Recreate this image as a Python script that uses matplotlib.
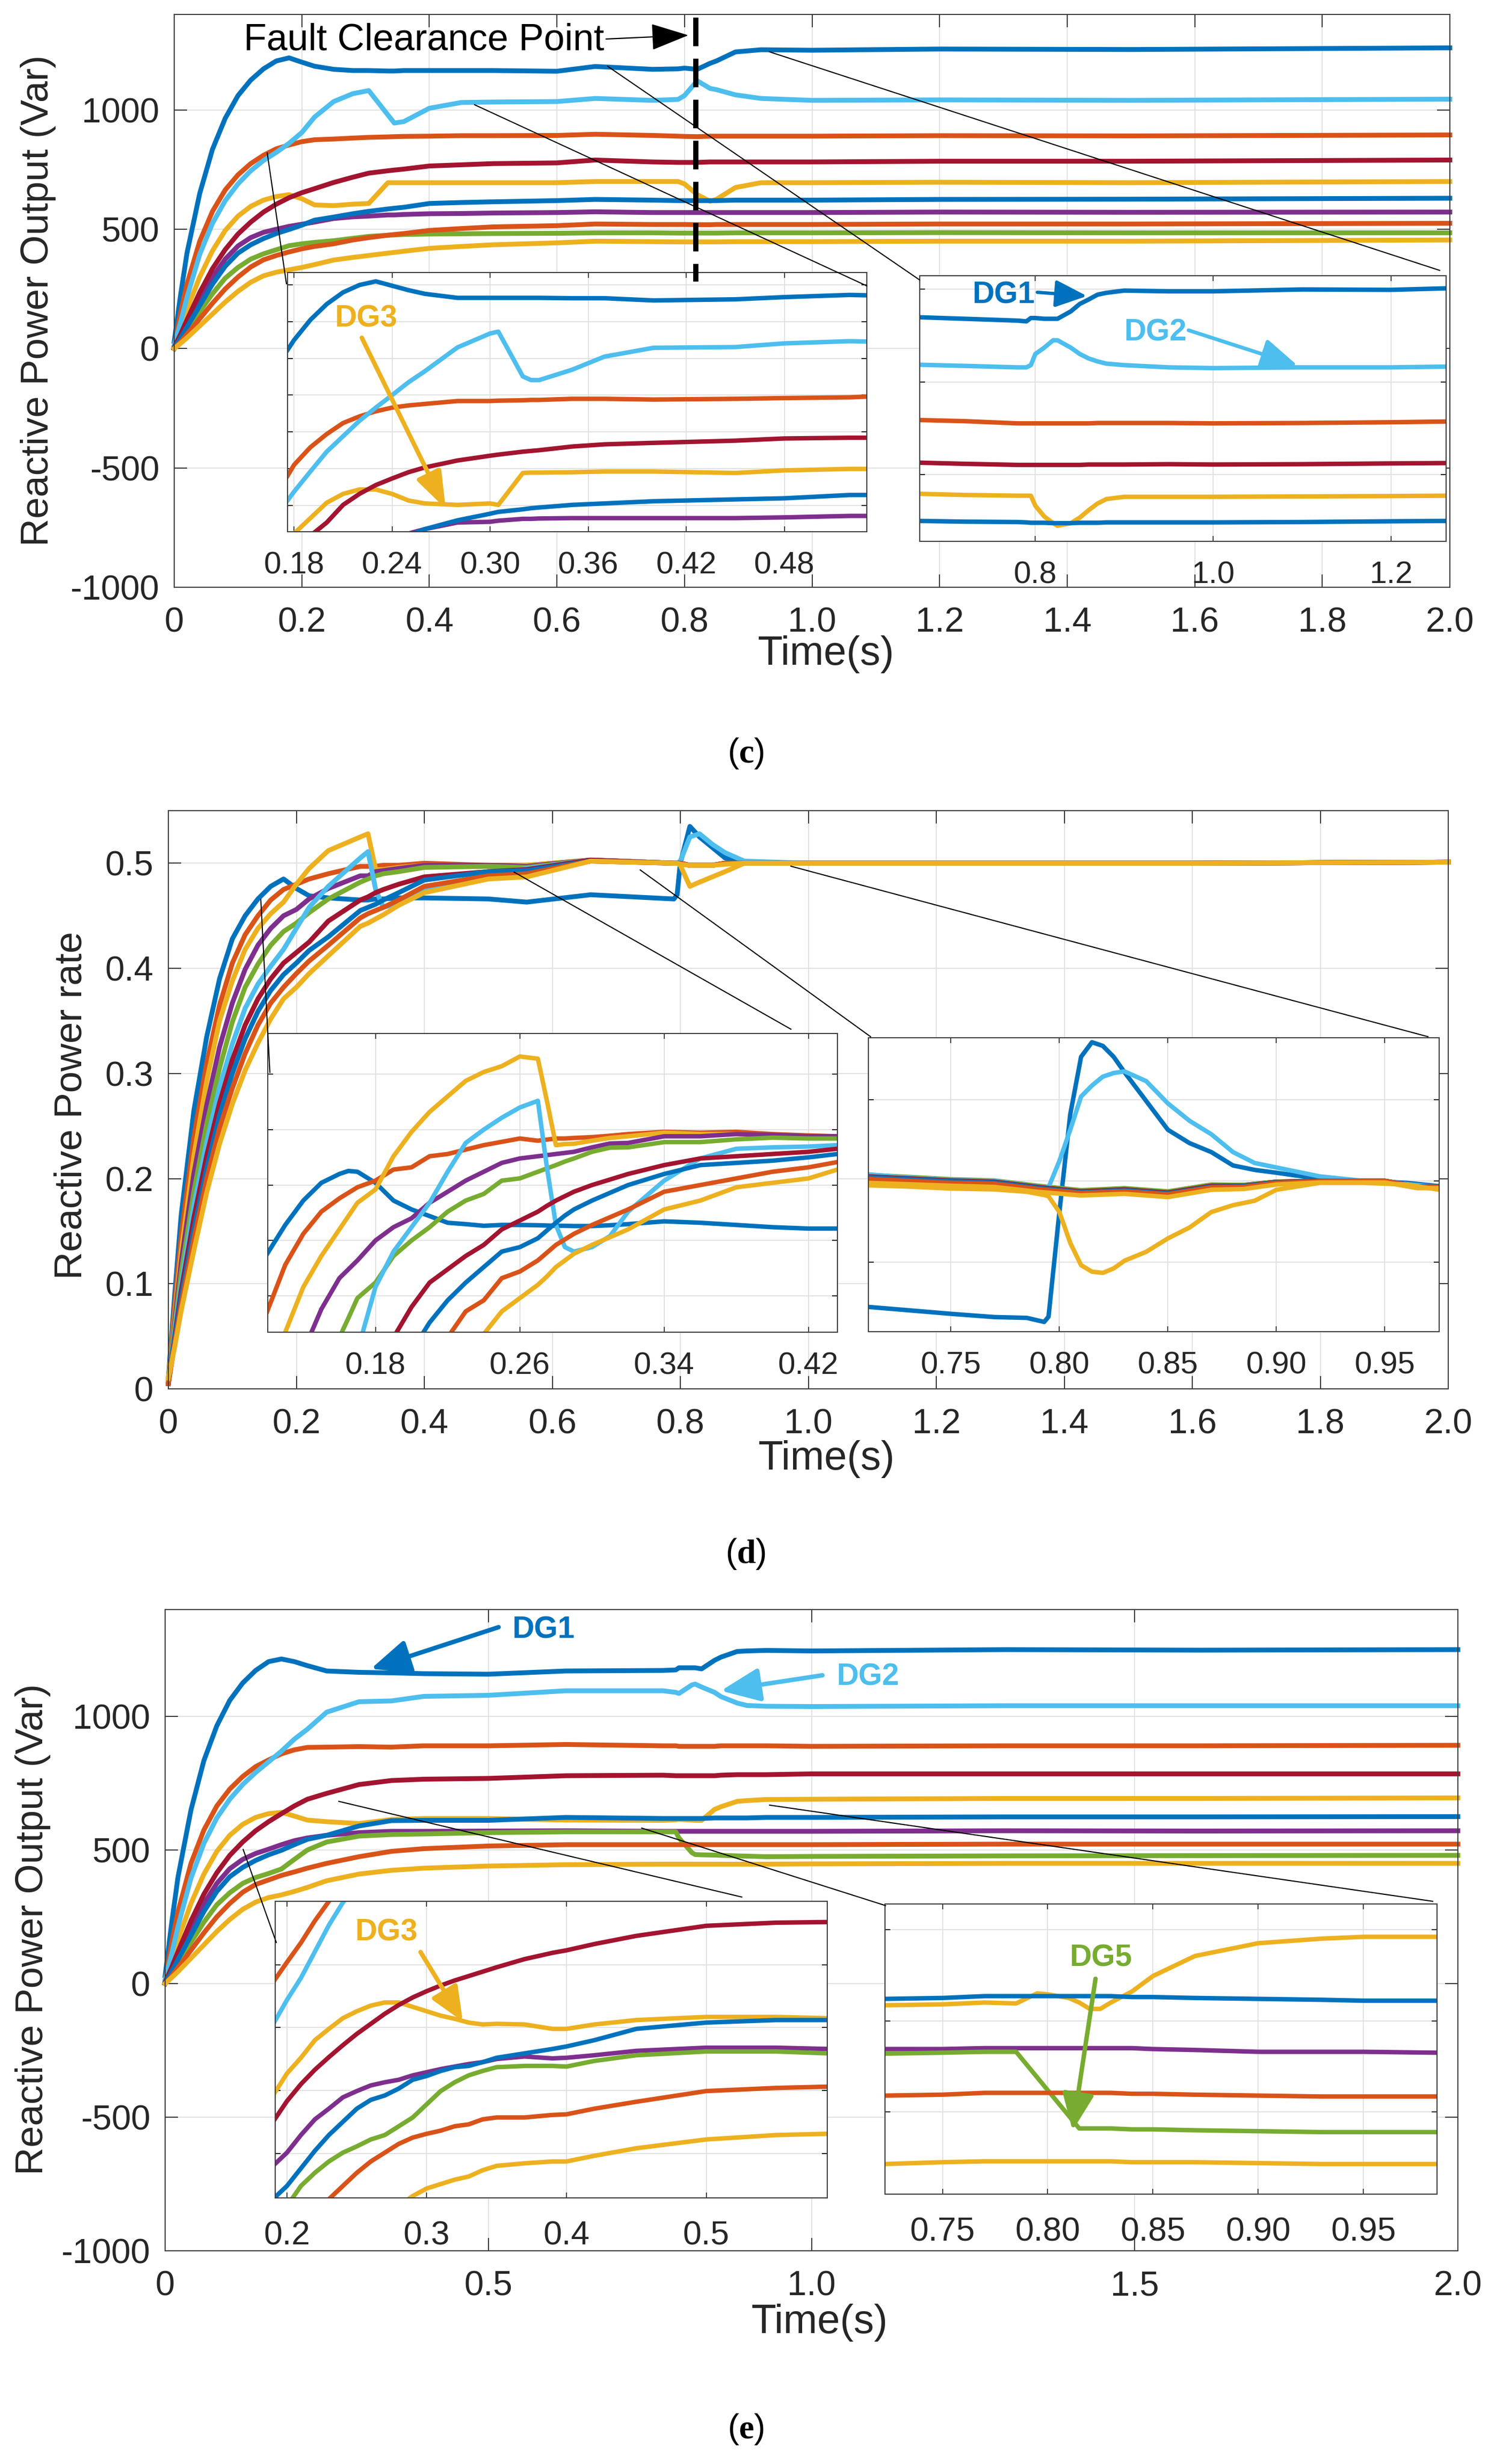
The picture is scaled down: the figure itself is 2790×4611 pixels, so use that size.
import matplotlib
matplotlib.use("Agg")
import matplotlib.pyplot as plt
from matplotlib.lines import Line2D
from matplotlib.patches import FancyArrowPatch

plt.rcParams['font.family'] = ['Liberation Sans', 'DejaVu Sans']
plt.rcParams['mathtext.fontset'] = 'custom'
plt.rcParams['mathtext.rm'] = 'Liberation Serif'
plt.rcParams['mathtext.bf'] = 'Liberation Serif:bold'

W, H = 2790, 4611
BLUE, ORANGE, YELLOW, PURPLE = '#0072BD', '#D95319', '#EDB120', '#7E2F8E'
GREEN, LBLUE, CRIMSON = '#77AC30', '#4DBEEE', '#A2142F'
TXT = '#262626'

# panel (c) main traces
c_t = [0, .01, .02, .04, .06, .08, .1, .12, .14, .16, .18, .2, .22, .25, .28, .305, .335, .345, .36, .4,
       .45, .5, .6, .66, .75, .79, .8, .82, .84, .85, .88, .92, 1.0, 1.2, 1.5, 2.0]
c_s1 = [30, 225, 400, 650, 835, 965, 1060, 1125, 1172, 1205, 1218, 1200, 1183, 1170, 1165, 1165, 1163, 1163, 1165, 1165,
        1165, 1165, 1162, 1182, 1170, 1172, 1175, 1170, 1195, 1205, 1243, 1252, 1250, 1255, 1253, 1260]
c_s2 = [10, 150, 270, 450, 575, 665, 728, 775, 810, 837, 853, 867, 875, 878, 882, 885, 887, 888, 889, 890,
        892, 892, 893, 898, 893, 890, 889, 888, 890, 890, 890, 890, 890, 892, 891, 895]
c_s3 = [5, 85, 165, 300, 410, 495, 555, 596, 622, 637, 645, 628, 602, 599, 605, 608, 695, 695, 695, 695,
        695, 695, 695, 700, 700, 700, 690, 645, 617, 625, 675, 695, 695, 697, 695, 700]
c_s4 = [0, 50, 105, 205, 300, 375, 430, 465, 487, 500, 512, 521, 530, 545, 552, 555, 560, 560, 562, 565,
        566, 568, 570, 573, 570, 570, 570, 570, 570, 570, 570, 570, 570, 572, 571, 572]
c_s5 = [0, 35, 75, 155, 230, 295, 340, 375, 397, 414, 431, 439, 445, 452, 462, 470, 475, 476, 478, 480,
        481, 482, 483, 485, 485, 484, 484, 484, 484, 484, 485, 485, 485, 486, 485, 485]
c_s6 = [15, 110, 215, 395, 525, 620, 690, 745, 788, 822, 860, 905, 970, 1035, 1068, 1081, 979, 945, 951, 1007,
        1031, 1033, 1035, 1048, 1040, 1044, 1060, 1122, 1090, 1085, 1063, 1048, 1040, 1042, 1040, 1045]
c_s7 = [5, 60, 120, 235, 335, 415, 480, 530, 572, 605, 632, 653, 670, 696, 718, 735, 745, 748, 752, 765,
        770, 775, 778, 790, 782, 780, 780, 780, 782, 782, 782, 782, 782, 785, 785, 790]
c_s8 = [0, 45, 90, 180, 270, 345, 400, 435, 461, 482, 499, 517, 538, 551, 565, 575, 585, 588, 592, 608,
        612, 615, 620, 625, 622, 620, 620, 620, 620, 620, 622, 622, 622, 625, 626, 630]
c_s9 = [0, 28, 60, 125, 190, 250, 300, 342, 372, 390, 405, 418, 428, 439, 455, 465, 475, 478, 482, 495,
        503, 510, 515, 522, 520, 520, 520, 519, 519, 520, 520, 520, 520, 522, 522, 525]
c_s10 = [0, 22, 45, 95, 145, 195, 240, 278, 305, 320, 330, 340, 352, 371, 382, 390, 400, 403, 408, 420,
         428, 435, 443, 450, 448, 447, 447, 447, 447, 447, 448, 448, 448, 450, 450, 455]

# panel (c) left inset
ci_t = [.176, .18, .19, .2, .21, .22, .23, .24, .25, .26, .28, .3, .305, .32, .325, .33, .35, .37, .4, .45, .48, .52, .5305]
ci_s1 = [1023, 1050, 1105, 1148, 1180, 1200, 1210, 1198, 1186, 1176, 1165, 1165, 1165, 1165, 1165, 1165, 1164, 1164, 1158, 1161, 1167, 1173, 1172]
ci_s6 = [613, 637, 692, 746, 788, 830, 866, 900, 935, 965, 1030, 1068, 1073, 951, 941, 941, 969, 1005, 1029, 1031, 1041, 1047, 1046]
ci_s2 = [680, 710, 758, 794, 824, 842, 856, 866, 872, 876, 884, 884, 885, 886, 887, 887, 890, 890, 888, 890, 892, 894, 896]
ci_s7 = [517, 553, 601, 631, 655, 673, 690, 703, 722, 735, 738, 746, 748, 750, 760, 766, 770, 776, 782, 784, 784]
ci_s3 = [523, 565, 607, 631, 643, 643, 631, 613, 605, 601, 605, 601, 688, 689, 689, 690, 692, 692, 688, 695, 699, 699]
ci_s8 = [517, 535, 559, 577, 582, 589, 592, 594, 601, 605, 611, 616, 619, 628, 628]
ci_s4 = [523, 535, 553, 555, 558, 563, 563, 564, 565, 565, 565, 565, 567, 571, 571]

# panel (c) right inset
cj_t = [.67, .72, .78, .79, .795, .8, .81, .82, .825, .84, .85, .86, .87, .88, .9, .95, 1.0, 1.1, 1.2, 1.262]
cj_s1 = [1174, 1170, 1165, 1163, 1172, 1172, 1170, 1170, 1170, 1190, 1210, 1222, 1235, 1240, 1246, 1244, 1244, 1249, 1248, 1252]
cj_s6 = [1046, 1043, 1039, 1039, 1045, 1075, 1092, 1112, 1112, 1092, 1075, 1063, 1055, 1049, 1045, 1039, 1037, 1039, 1039, 1041]
cj_s2 = [897, 894, 888, 888, 888, 888, 888, 888, 888, 888, 888, 888, 889, 889, 889, 889, 888, 889, 891, 893]
cj_s7 = [782, 779, 776, 776, 776, 776, 776, 776, 776, 776, 776, 777, 777, 777, 777, 778, 777, 778, 780, 781]
cj_s3 = [698, 695, 693, 693, 693, 666, 637, 619, 612, 619, 634, 654, 672, 684, 690, 690, 690, 691, 692, 693]
cj_s8 = [625, 623, 622, 621, 620, 620, 620, 619, 619, 619, 620, 620, 620, 621, 621, 621, 621, 622, 624, 625]

# panel (d) main traces
d_t = [0, .01, .02, .04, .06, .08, .1, .12, .14, .16, .18, .2, .22, .25, .3, .312, .324, .336, .36, .4,
       .5, .56, .66, .79, .795, .8, .815, .83, .85, .87, .9, 1.0, 1.3, 1.6, 2.0]
d_s1 = [.01, .09, .165, .265, .335, .39, .428, .45, .466, .478, .485, .476, .469, .467, .465, .465, .466, .466, .467, .467,
        .466, .463, .47, .466, .47, .5, .535, .525, .515, .505, .5, .5, .5, .5, .501]
d_s2 = [.005, .08, .145, .24, .31, .365, .405, .432, .45, .465, .475, .48, .485, .49, .497, .497, .497, .498, .498, .5,
        .498, .498, .503, .5, .5, .5, .498, .498, .498, .5, .5, .5, .5, .5, .501]
d_s3 = [.01, .07, .13, .222, .293, .35, .388, .418, .438, .452, .463, .48, .495, .512, .525, .528, .494, .494, .496, .498,
        .497, .498, .503, .5, .5, .498, .478, .482, .487, .492, .5, .5, .5, .5, .501]
d_s4 = [.005, .065, .12, .205, .27, .325, .367, .399, .422, .438, .45, .456, .466, .476, .488, .488, .492, .493, .495, .498,
        .498, .497, .503, .5, .5, .5, .498, .498, .498, .5, .5, .5, .5, .5, .501]
d_s5 = [.005, .06, .11, .188, .252, .305, .349, .382, .404, .422, .435, .443, .453, .466, .482, .485, .488, .49, .492, .496,
        .497, .496, .503, .5, .5, .5, .498, .498, .498, .5, .5, .5, .5, .5, .501]
d_s6 = [.005, .055, .1, .175, .235, .287, .328, .362, .385, .402, .418, .438, .458, .478, .505, .511, .475, .458, .462, .475,
        .49, .495, .503, .5, .5, .502, .525, .528, .518, .51, .502, .5, .5, .5, .501]
d_s7 = [.005, .05, .093, .163, .222, .272, .313, .346, .371, .39, .405, .415, .425, .445, .465, .468, .472, .475, .48, .487,
        .492, .494, .503, .5, .5, .5, .498, .498, .498, .5, .5, .5, .5, .5, .501]
d_s8 = [.005, .047, .087, .152, .21, .26, .3, .333, .359, .379, .394, .405, .417, .43, .455, .458, .461, .465, .472, .484,
        .492, .493, .502, .5, .5, .5, .498, .498, .498, .5, .5, .5, .5, .5, .501]
d_s9 = [.005, .043, .08, .143, .2, .248, .286, .319, .346, .367, .382, .395, .407, .422, .448, .452, .455, .458, .465, .478,
        .488, .49, .502, .5, .5, .5, .498, .498, .498, .5, .5, .5, .5, .5, .501]
d_s10 = [.01, .04, .074, .132, .187, .233, .271, .303, .329, .352, .371, .382, .395, .412, .44, .443, .447, .451, .46, .472,
         .485, .487, .502, .5, .5, .499, .498, .498, .498, .499, .5, .5, .5, .5, .501]

# panel (d) left inset
di_t = [.12, .13, .14, .15, .16, .165, .17, .18, .19, .2, .21, .22, .23, .24, .25, .26, .27, .275, .28, .285,
        .29, .3, .31, .32, .34, .36, .38, .4, .42, .436]
di_s1 = [.4552, .4656, .4744, .4808, .484, .4851, .4848, .4808, .4744, .4712, .4688, .4664, .4659, .4653, .4656, .4656, .4655, .4654, .4653, .4653,
         .4652, .4652, .4655, .4659, .4669, .4664, .4656, .4648, .4643, .4643]
di_s2 = [.4344, .4512, .4624, .4704, .4752, .4772, .4792, .4816, .4856, .4864, .4904, .4912, .4928, .4944, .4956, .4968, .496, .4964, .4968, .4968,
         .497, .4973, .4978, .4984, .4992, .4989, .4992, .4984, .4979, .4976]
di_s3 = [.4269, .4432, .4544, .464, .4688, .4736, .4784, .4904, .4992, .5064, .512, .5176, .5208, .5229, .5264, .5256, .5104, .4944, .4948,
         .4949, .496, .497, .4976, .4989, .4984, .4984, .4979, .4973, .4973]
di_s4 = [.42, .4352, .4464, .4496, .4528, .46, .4648, .468, .4736, .4776, .4816, .4848, .488, .4896, .4904, .4908, .4912, .4916,
         .492, .4936, .495, .4952, .4976, .4976, .4984, .4981, .4976, .4976]
di_s5 = [.425, .432, .4392, .4448, .4544, .46, .4648, .4704, .4744, .4768, .4816, .4824, .4848, .486, .4872, .4885,
         .4896, .492, .4935, .4936, .4955, .4955, .4965, .4971, .4968, .4968]
di_s6 = [.42, .4432, .456, .4648, .4736, .4848, .4952, .5, .5043, .508, .5104, .4864, .4656, .4576,
         .456, .4576, .4616, .4704, .4816, .4896, .4931, .4936, .4939, .4944]
di_s7 = [.425, .436, .4448, .4496, .4544, .4584, .464, .4672, .4704, .4725, .4744, .476,
         .4776, .48, .482, .484, .4872, .4896, .4904, .4912, .492, .4931]
di_s8 = [.42, .4304, .4384, .4448, .4504, .456, .4576, .4608, .4636, .4664, .469,
         .4712, .4744, .4772, .48, .484, .4872, .488, .4888, .49, .4912]
di_s9 = [.425, .4344, .4384, .4464, .4488, .4528, .4556, .4584, .4604,
         .4624, .4656, .4684, .4712, .4776, .48, .4824, .4848, .4864, .4883]
di_s10 = [.42, .4262, .4344, .4392, .444, .447, .4504, .4528,
          .4552, .4584, .4612, .464, .4712, .4744, .4792, .4808, .4824, .4856]

# panel (d) right inset
dj_t = [.712, .73, .75, .77, .785, .793, .795, .8, .805, .81, .815, .82, .825, .83, .84, .85, .86, .87, .88, .89,
        .9, .92, .94, .96, .975]
dj_s1 = [.4689, .4681, .4672, .4664, .4662, .4652, .4665, .4923, .5164, .5306, .5342, .5333, .5306, .5268, .5197, .5126, .5093, .5071, .5038, .5027,
         .502, .5005, .5, .4995, .4987]
dj_s6 = [.5016, .5008, .5002, .5, .4989, .4984, .4984, .5049, .5126, .5208, .5235, .5257, .5266, .527, .5246, .5191, .5148, .5115, .5071, .5044,
         .5033, .5011, .5, .4992, .4984]
dj_s3 = [.4989, .4986, .4981, .4979, .4973, .4965, .4962, .4923, .4847, .4792, .4776, .4773, .4784, .4803, .4825, .4858, .4885, .4923, .494, .4951,
         .4978, .4995, .4995, .4991, .4978]
dj_flat_t = [.712, .75, .77, .79, .81, .83, .85, .87, .885, .9, .92, .95, .965, .975]
dj_s2 = [.5012, .5002, .4999, .4986, .4975, .498, .4972, .4989, .4989, .4998, .5, .5, .4987, .4987]
dj_s4 = [.5014, .5003, .5, .4987, .4976, .4981, .4973, .499, .499, .4998, .5, .5, .4987, .4987]
dj_s5 = [.5015, .5004, .5001, .4988, .4977, .4982, .4974, .4991, .499, .4998, .5, .5, .4987, .4987]
dj_s7 = [.5011, .5001, .4998, .4985, .4974, .4979, .4971, .4988, .4988, .4997, .5, .5, .4986, .4986]
dj_s8 = [.5009, .4999, .4996, .4983, .4972, .4977, .4969, .4986, .4987, .4996, .4999, .5, .4986, .4986]
dj_s9 = [.5005, .4995, .4993, .498, .497, .4974, .4967, .4984, .4985, .4995, .4999, .5, .4985, .4985]
dj_s10 = [.4995, .4988, .4985, .4973, .4964, .4968, .496, .4978, .498, .4991, .4996, .4996, .4982, .4982]

# panel (e) main traces
e_t = [0, .01, .02, .04, .06, .08, .1, .12, .14, .16, .18, .2, .22, .25, .3, .35, .4, .5, .62, .77,
       .79, .795, .815, .82, .83, .85, .86, .885, .9, .93, 1.0, 1.3, 1.6, 2.0]
e_s1 = [30, 225, 400, 650, 835, 965, 1060, 1125, 1172, 1205, 1215, 1205, 1190, 1170, 1165, 1163, 1160, 1158, 1170, 1172,
        1174, 1182, 1182, 1182, 1178, 1210, 1222, 1243, 1245, 1247, 1245, 1250, 1248, 1250]
e_s2 = [10, 150, 270, 450, 575, 665, 728, 775, 812, 837, 860, 875, 884, 885, 887, 885, 890, 890, 895, 890,
        890, 888, 888, 888, 888, 888, 890, 890, 890, 890, 888, 890, 890, 892]
e_s3 = [5, 85, 165, 300, 410, 495, 555, 596, 622, 636, 641, 627, 612, 606, 599, 614, 618, 618, 612, 611,
        613, 615, 612, 611, 611, 652, 662, 682, 685, 689, 690, 693, 693, 695]
e_s4 = [0, 50, 105, 205, 300, 375, 430, 465, 487, 503, 520, 535, 545, 555, 565, 570, 570, 571, 572, 570,
        570, 570, 570, 570, 570, 570, 570, 570, 570, 570, 570, 572, 571, 572]
e_s5 = [0, 35, 75, 155, 230, 295, 340, 375, 397, 412, 429, 465, 500, 530, 552, 558, 560, 565, 568, 568,
        568, 545, 490, 483, 482, 481, 480, 478, 477, 475, 476, 478, 479, 480]
e_s6 = [15, 110, 215, 395, 525, 620, 690, 745, 790, 830, 870, 915, 952, 1016, 1055, 1058, 1075, 1079, 1096, 1096,
        1090, 1086, 1118, 1121, 1110, 1090, 1074, 1050, 1041, 1038, 1037, 1040, 1040, 1040]
e_s7 = [5, 60, 120, 235, 335, 415, 480, 530, 572, 606, 636, 665, 690, 712, 745, 760, 765, 768, 778, 780,
        778, 778, 778, 778, 778, 778, 780, 782, 782, 782, 785, 785, 785, 785]
e_s8 = [0, 45, 90, 180, 270, 345, 400, 435, 461, 482, 499, 520, 540, 555, 590, 610, 611, 611, 622, 618,
        618, 618, 618, 618, 618, 620, 620, 620, 620, 622, 622, 624, 624, 625]
e_s9 = [0, 28, 60, 125, 190, 250, 300, 342, 371, 388, 405, 418, 432, 450, 475, 495, 505, 515, 520, 520,
        520, 520, 520, 520, 520, 520, 520, 520, 520, 520, 520, 522, 522, 522]
e_s10 = [0, 22, 45, 95, 145, 195, 240, 278, 305, 322, 332, 345, 360, 385, 410, 424, 432, 440, 445, 447,
         447, 447, 447, 447, 447, 447, 447, 447, 447, 447, 448, 450, 450, 450]

# panel (e) left inset
ei_t = [.19, .2, .21, .22, .23, .24, .25, .26, .27, .28, .29, .3, .31, .32, .33, .34, .35, .37, .39, .4, .42, .45, .5, .55, .587]
ei_s2 = [672, 704, 735, 770, 801, 830]
ei_s3 = [492, 527, 552, 580, 598, 615, 626, 635, 640, 640, 633, 626, 619, 614, 608, 605, 606, 605, 598, 598, 605, 612, 617, 617, 615]
ei_s4 = [380, 401, 429, 454, 471, 489, 499, 508, 513, 517, 524, 529, 534, 538, 542, 545, 550, 554, 551, 552, 556, 563, 568, 568, 566]
ei_s5 = [316, 348, 369, 387, 401, 411, 422, 429, 443, 457, 478, 499, 513, 524, 531, 537, 539, 539, 538, 547, 556, 562, 562, 559]
ei_s6 = [605, 644, 679, 721, 763, 799, 827]
ei_s7 = [450, 483, 510, 533, 553, 572, 590, 606, 622, 636, 648, 658, 667, 675, 682, 689, 696, 709, 719, 723, 733, 746, 762, 767, 768]
ei_s8 = [327, 348, 376, 404, 429, 450, 471, 485, 492, 503, 517, 523, 531, 537, 539, 545, 552, 559, 566, 570, 580, 598, 608, 612, 612]
ei_s9 = [327, 348, 369, 387, 401, 415, 425, 431, 436, 443, 446, 454, 457, 457, 461, 462, 471, 482, 499, 504, 506]
ei_s10 = [316, 332, 344, 351, 358, 363, 373, 380, 384, 387, 387, 396, 408, 422, 429, 431]

# panel (e) right inset
ej_t = [.7227, .75, .77, .785, .795, .8, .81, .815, .82, .825, .83, .84, .85, .87, .9, .93, .95, .985]
ej_s3 = [617, 618, 620, 619, 630, 629, 625, 620, 613, 613, 620, 632, 649, 671, 685, 690, 692, 692]
ej_s4 = [569, 569, 570, 570, 570, 570, 570, 570, 570, 570, 570, 570, 569, 568, 566, 566, 566, 565]
ej_s5 = [564, 565, 566, 566, 538, 524, 496, 482, 482, 482, 482, 481, 481, 480, 479, 478, 478, 478]
ej_s8 = [624, 625, 627, 627, 627, 627, 627, 627, 627, 627, 627, 626, 626, 625, 624, 623, 622, 622]
ej_s9 = [518, 519, 521, 521, 521, 521, 521, 521, 521, 521, 521, 520, 520, 519, 518, 517, 517, 517]
ej_s10 = [443, 445, 446, 446, 446, 446, 446, 446, 446, 446, 446, 445, 445, 445, 444, 443, 443, 443]

x_ticks_cd = [0, .2, .4, .6, .8, 1.0, 1.2, 1.4, 1.6, 1.8, 2.0]
x_labels_cd = ['0', '0.2', '0.4', '0.6', '0.8', '1.0', '1.2', '1.4', '1.6', '1.8', '2.0']
x_ticks_e = [0, .5, 1.0, 1.5, 2.0]
x_labels_e = ['0', '0.5', '1.0', '1.5', '2.0']
y_ticks_var = [-1000, -500, 0, 500, 1000]
y_ticks_rate = [0, .1, .2, .3, .4, .5]
y_labels_rate = ['0', '0.1', '0.2', '0.3', '0.4', '0.5']

fig = plt.figure(figsize=(W / 100, H / 100), dpi=100, facecolor='white')


def fx(x, y):
    return x / W, 1 - y / H


def new_axes(left, top, right, bottom, z):
    ax = fig.add_axes([left / W, 1 - bottom / H, (right - left) / W, (bottom - top) / H], zorder=z)
    ax.set_facecolor('white')
    ax.grid(True, color='#e2e2e2', lw=1.4)
    ax.set_axisbelow(True)
    for s in ax.spines.values():
        s.set_color('#404040')
        s.set_linewidth(1.5)
    return ax


def main_axes(box, xlim, ylim, xt, xl, yt, yl):
    ax = new_axes(*box, 1)
    ax.set_xlim(*xlim)
    ax.set_ylim(*ylim)
    ax.set_xticks(xt, xl)
    ax.set_yticks(yt, yl)
    ax.tick_params(axis='x', direction='in', length=17, width=1.3, top=True, pad=26, labelsize=47, colors=TXT)
    ax.tick_params(axis='y', direction='in', length=17, width=1.3, right=True, pad=20, labelsize=47, colors=TXT)
    return ax


def inset_axes(box, xlim, ylim, xt, xl, yt, pad, size):
    ax = new_axes(*box, 2)
    ax.set_xlim(*xlim)
    ax.set_ylim(*ylim)
    ax.set_xticks(xt, xl)
    ax.set_yticks(yt, [])
    ax.tick_params(axis='x', direction='in', length=7, width=1.2, top=True, pad=pad, labelsize=size, colors=TXT)
    ax.tick_params(axis='y', direction='in', length=7, width=1.2, right=True)
    return ax


def trace(ax, t, vals, color, lw=6.5, head=False, clip=True):
    # short lists line up with the end of t, head=True lines them up with the start
    xs = t[:len(vals)] if head else t[-len(vals):]
    ax.plot(xs, vals, color=color, lw=lw, clip_on=clip, solid_joinstyle='round')


def link(x0, y0, x1, y1):
    a = fx(x0, y0)
    b = fx(x1, y1)
    fig.add_artist(Line2D([a[0], b[0]], [a[1], b[1]], color='black', lw=1.5, zorder=5))


def arrow(x0, y0, x1, y1, color, lw=6, scale=60, hl=.7, hw=.3):
    fig.add_artist(FancyArrowPatch(fx(x0, y0), fx(x1, y1), transform=fig.transFigure, color=color, lw=lw,
                                   arrowstyle='-|>,head_length=%g,head_width=%g' % (hl, hw),
                                   mutation_scale=scale, shrinkA=0, shrinkB=0, zorder=6))


def label(x, y, s, color, size=41):
    fig.text(x / W, 1 - y / H, s, color=color, fontsize=size, fontweight='bold', ha='center', va='center', zorder=7)


def plain(x, y, s, size=50, rotation=0, color=TXT):
    fig.text(x / W, 1 - y / H, s, color=color, fontsize=size, ha='center', va='center', rotation=rotation, zorder=7)


# ---- (c) ----
ax = main_axes((326, 27, 2713, 1099), (0, 2), (-1000, 1400), x_ticks_cd, x_labels_cd,
               y_ticks_var, [str(v) for v in y_ticks_var])
for vals, col in [(c_s1, BLUE), (c_s2, ORANGE), (c_s3, YELLOW), (c_s4, PURPLE), (c_s5, GREEN),
                  (c_s6, LBLUE), (c_s7, CRIMSON), (c_s8, BLUE), (c_s9, ORANGE), (c_s10, YELLOW)]:
    trace(ax, c_t, vals, col, clip=False)

ax = inset_axes((538, 510, 1622, 995), (.176, .5305), (528, 1234), [.18, .24, .3, .36, .42, .48],
                ['0.18', '0.24', '0.30', '0.36', '0.42', '0.48'], [600, 700, 800, 900, 1000, 1100, 1200], 26, 42)
trace(ax, ci_t, ci_s1, BLUE, 6)
trace(ax, ci_t, ci_s2, ORANGE, 6)
trace(ax, ci_t, ci_s3, YELLOW, 6)
trace(ax, ci_t, ci_s4, PURPLE, 6)
trace(ax, ci_t, ci_s6, LBLUE, 6)
trace(ax, ci_t, ci_s7, CRIMSON, 6)
trace(ax, ci_t, ci_s8, BLUE, 6)

ax = inset_axes((1721, 516, 2706, 1013), (.67, 1.262), (570, 1286), [.8, 1.0, 1.2], ['0.8', '1.0', '1.2'],
                [750, 1000, 1250], 26, 42)
trace(ax, cj_t, cj_s1, BLUE, 6)
trace(ax, cj_t, cj_s2, ORANGE, 6)
trace(ax, cj_t, cj_s3, YELLOW, 6)
trace(ax, cj_t, cj_s6, LBLUE, 6)
trace(ax, cj_t, cj_s7, CRIMSON, 6)
trace(ax, cj_t, cj_s8, BLUE, 6)

link(500, 286, 536, 531)
link(888, 196, 1622, 535)
link(1137, 124, 1721, 524)
link(1440, 97, 2694, 506)
a, b = fx(1302, 33), fx(1302, 527)
fig.add_artist(Line2D([a[0], b[0]], [a[1], b[1]], color='black', lw=7, dashes=(5.5, 2.4), zorder=5))
plain(793, 75, 'Fault Clearance Point', 50.5, color='black')
arrow(1134, 73, 1288, 66, 'black', lw=1.6, scale=50, hl=.9, hw=.32)
label(1878, 553, 'DG1', BLUE)
arrow(1941, 547, 2034, 554, BLUE, lw=4.5, scale=52)
label(2162, 622, 'DG2', LBLUE)
arrow(2224, 618, 2428, 684, LBLUE, lw=5, scale=60)
label(685, 597, 'DG3', YELLOW)
arrow(677, 632, 834, 952, YELLOW, lw=6, scale=60, hw=.25)
plain(72, 562, 'Reactive Power Output (Var)', 52, 90)
plain(1545, 1225, 'Time(s)', 55)
plain(1395, 1410, r'($\mathbf{c}$)', 46, color='black')

# ---- (d) ----
ax = main_axes((315, 1517, 2710, 2599), (0, 2), (0, .55), x_ticks_cd, x_labels_cd, y_ticks_rate, y_labels_rate)
for vals, col in [(d_s1, BLUE), (d_s2, ORANGE), (d_s3, YELLOW), (d_s4, PURPLE), (d_s5, GREEN),
                  (d_s6, LBLUE), (d_s7, CRIMSON), (d_s8, BLUE), (d_s9, ORANGE), (d_s10, YELLOW)]:
    trace(ax, d_t, vals, col, clip=False)

ax = inset_axes((501, 1934, 1567, 2493), (.1203, .436), (.4269, .5347), [.18, .26, .34, .42],
                ['0.18', '0.26', '0.34', '0.42'], [.44, .46, .48, .5, .52], 26, 42)
trace(ax, di_t, di_s1, BLUE, 6)
trace(ax, di_t, di_s2, ORANGE, 6)
trace(ax, di_t, di_s3, YELLOW, 6)
trace(ax, di_t, di_s4, PURPLE, 6)
trace(ax, di_t, di_s5, GREEN, 6)
trace(ax, di_t, di_s6, LBLUE, 6)
trace(ax, di_t, di_s7, CRIMSON, 6)
trace(ax, di_t, di_s8, BLUE, 6)
trace(ax, di_t, di_s9, ORANGE, 6)
trace(ax, di_t, di_s10, YELLOW, 6)

ax = inset_axes((1625, 1942, 2693, 2492), (.712, .975), (.4628, .5353), [.75, .8, .85, .9, .95],
                ['0.75', '0.80', '0.85', '0.90', '0.95'], [.48, .5, .52], 26, 42)
trace(ax, dj_t, dj_s1, BLUE, 6)
trace(ax, dj_flat_t, dj_s2, ORANGE, 6)
trace(ax, dj_flat_t, dj_s4, PURPLE, 6)
trace(ax, dj_flat_t, dj_s5, GREEN, 6)
trace(ax, dj_t, dj_s6, LBLUE, 6)
trace(ax, dj_flat_t, dj_s7, CRIMSON, 6)
trace(ax, dj_flat_t, dj_s8, BLUE, 6)
trace(ax, dj_flat_t, dj_s9, ORANGE, 6)
trace(ax, dj_t, dj_s3, YELLOW, 6)
trace(ax, dj_flat_t, dj_s10, YELLOW, 6)

link(488, 1683, 505, 2007)
link(962, 1632, 1480, 1926)
link(1198, 1628, 1629, 1940)
link(1480, 1621, 2672, 1940)
plain(134, 2069, 'Reactive Power rate', 52, 90)
plain(1546, 2730, 'Time(s)', 55)
plain(1395, 2908, r'($\mathbf{d}$)', 46, color='black')

# ---- (e) ----
ax = main_axes((309, 3012, 2728, 4212), (0, 2), (-1000, 1400), x_ticks_e, x_labels_e,
               y_ticks_var, [str(v) for v in y_ticks_var])
for vals, col in [(e_s1, BLUE), (e_s2, ORANGE), (e_s3, YELLOW), (e_s4, PURPLE), (e_s5, GREEN),
                  (e_s6, LBLUE), (e_s7, CRIMSON), (e_s8, BLUE), (e_s9, ORANGE), (e_s10, YELLOW)]:
    trace(ax, e_t, vals, col, clip=False)

ax = inset_axes((515, 3558, 1548, 4113), (.1916, .5866), (329, 801), [.2, .3, .4, .5],
                ['0.2', '0.3', '0.4', '0.5'], [400, 500, 600, 700], 30, 45)
trace(ax, ei_t, ei_s2, ORANGE, 6, head=True)
trace(ax, ei_t, ei_s3, YELLOW, 6)
trace(ax, ei_t, ei_s4, PURPLE, 6)
trace(ax, ei_t, ei_s5, GREEN, 6)
trace(ax, ei_t, ei_s6, LBLUE, 6, head=True)
trace(ax, ei_t, ei_s7, CRIMSON, 6)
trace(ax, ei_t, ei_s8, BLUE, 6)
trace(ax, ei_t, ei_s9, ORANGE, 6)
trace(ax, ei_t, ei_s10, YELLOW, 6)

ax = inset_axes((1656, 3563, 2689, 4106), (.7227, .985), (410, 728), [.75, .8, .85, .9, .95],
                ['0.75', '0.80', '0.85', '0.90', '0.95'], [500, 600, 700], 30, 45)
trace(ax, ej_t, ej_s3, YELLOW, 6)
trace(ax, ej_t, ej_s4, PURPLE, 6)
trace(ax, ej_t, ej_s5, GREEN, 6)
trace(ax, ej_t, ej_s8, BLUE, 6)
trace(ax, ej_t, ej_s9, ORANGE, 6)
trace(ax, ej_t, ej_s10, YELLOW, 6)

link(455, 3461, 517, 3635)
link(634, 3371, 1388, 3550)
link(1201, 3421, 1657, 3566)
link(1440, 3378, 2681, 3558)
label(1017, 3050, 'DG1', BLUE)
arrow(933, 3045, 694, 3123, BLUE, lw=6, scale=64)
label(1624, 3139, 'DG2', LBLUE)
arrow(1539, 3135, 1349, 3164, LBLUE, lw=6, scale=64)
label(723, 3617, 'DG3', YELLOW)
arrow(787, 3653, 866, 3783, YELLOW, lw=6, scale=56)
label(2060, 3665, 'DG5', GREEN)
arrow(2050, 3703, 2007, 3987, GREEN, lw=6, scale=60)
plain(62, 3610, 'Reactive Power Output (Var)', 52, 90)
plain(1533, 4347, 'Time(s)', 55)
plain(1395, 4546, r'($\mathbf{e}$)', 46, color='black')

fig.savefig('out.png', dpi=100)
